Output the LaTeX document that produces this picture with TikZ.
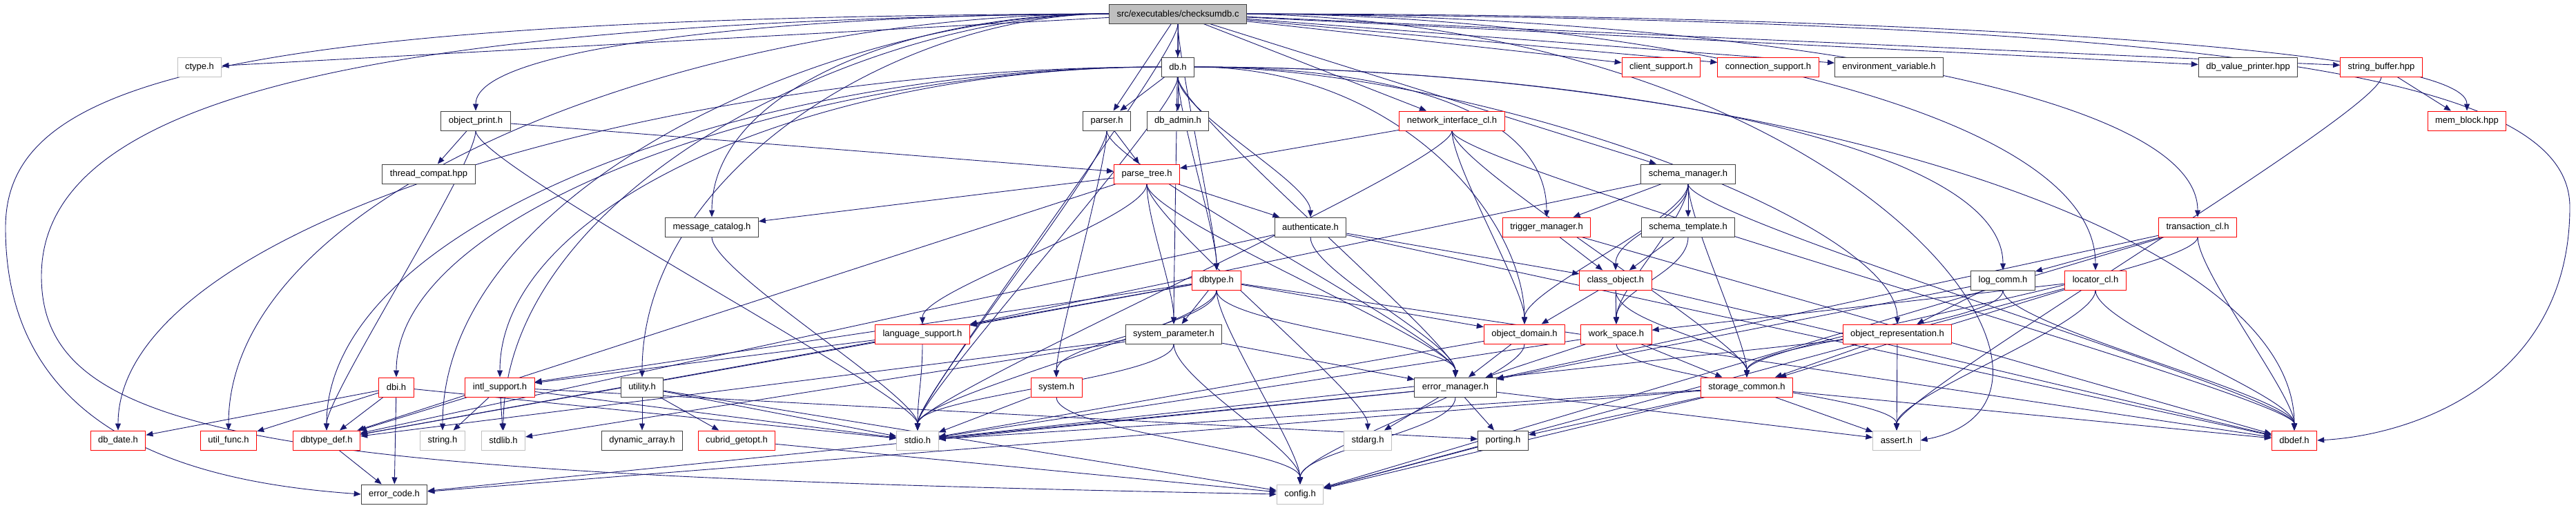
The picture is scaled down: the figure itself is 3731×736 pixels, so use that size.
\documentclass[tikz,border=0pt]{standalone}
\usepackage{fontspec}
\setmainfont{Liberation Sans}
\usetikzlibrary{arrows.meta,backgrounds}
\definecolor{edgeblue}{HTML}{191970}
\definecolor{boxgray}{HTML}{BFBFBF}
\definecolor{boxdark}{HTML}{404040}
\tikzset{
  hdr/.style={draw=boxdark, line width=1pt, fill=white, inner xsep=11pt, inner ysep=0pt,
    minimum height=28pt, font=\fontsize{13}{15}\selectfont},
  hdrred/.style={hdr, draw=red},
  hdrsys/.style={hdr, draw=boxgray},
  hdrmain/.style={hdr, fill=boxgray},
  incl/.style={draw=edgeblue, line width=0.9pt, -{Triangle[length=10pt,width=8pt]}},
}
\begin{document}
\begin{tikzpicture}[x=1pt,y=-1pt]
\useasboundingbox (0,0) rectangle (3731,736);
% rank 0 and 1
\node[hdrmain] (main) at (1706,20) {src/executables/checksumdb.c};
\node[hdrsys] (ctype) at (289,97) {ctype.h};
\node[hdr] (dbh) at (1706,97) {db.h};
\node[hdrred] (clientsup) at (2406,97) {client\_support.h};
\node[hdrred] (connsup) at (2561,97) {connection\_support.h};
\node[hdr] (envvar) at (2736,97) {environment\_variable.h};
\node[hdr] (dbvalprint) at (3256,97) {db\_value\_printer.hpp};
\node[hdrred] (strbuf) at (3449,97) {string\_buffer.hpp};
% rank 2 and 3
\node[hdr] (objprint) at (689,175) {object\_print.h};
\node[hdr] (parser) at (1603,175) {parser.h};
\node[hdr] (dbadmin) at (1706,175) {db\_admin.h};
\node[hdrred] (netif) at (2103,175) {network\_interface\_cl.h};
\node[hdrred] (memblock) at (3573,175) {mem\_block.hpp};
\node[hdr] (threadcompat) at (621,252) {thread\_compat.hpp};
\node[hdrred] (parsetree) at (1661,252) {parse\_tree.h};
\node[hdr] (schemamgr) at (2445,252) {schema\_manager.h};
% rank 4 and 5
\node[hdr] (msgcat) at (1031,329) {message\_catalog.h};
\node[hdr] (auth) at (1898,329) {authenticate.h};
\node[hdrred] (trigmgr) at (2240,329) {trigger\_manager.h};
\node[hdr] (schematpl) at (2445,329) {schema\_template.h};
\node[hdrred] (trancl) at (3183,329) {transaction\_cl.h};
\node[hdrred] (dbtype) at (1762,406) {dbtype.h};
\node[hdrred] (classobj) at (2340,406) {class\_object.h};
\node[hdr] (logcomm) at (2901,406) {log\_comm.h};
\node[hdrred] (locator) at (3035,406) {locator\_cl.h};
% rank 6 and 7
\node[hdrred] (langsup) at (1336,484) {language\_support.h};
\node[hdr] (sysparam) at (1700,484) {system\_parameter.h};
\node[hdrred] (objdomain) at (2208,484) {object\_domain.h};
\node[hdrred] (workspace) at (2341,484) {work\_space.h};
\node[hdrred] (objrepr) at (2748,484) {object\_representation.h};
\node[hdrred] (dbi) at (574,561) {dbi.h};
\node[hdrred] (intlsup) at (724,561) {intl\_support.h};
\node[hdr] (utility) at (930,561) {utility.h};
\node[hdrred] (systemh) at (1530,561) {system.h};
\node[hdr] (errmgr) at (2108,561) {error\_manager.h};
\node[hdrred] (storage) at (2530,561) {storage\_common.h};
% rank 8 and 9
\node[hdrred] (dbdate) at (171,638) {db\_date.h};
\node[hdrred] (utilfunc) at (331,638) {util\_func.h};
\node[hdrred] (dbtypedef) at (473,638) {dbtype\_def.h};
\node[hdrsys] (stringh) at (641,638) {string.h};
\node[hdrsys] (stdlibh) at (729,638) {stdlib.h};
\node[hdr] (dynarr) at (930,638) {dynamic\_array.h};
\node[hdrred] (getopt) at (1067,638) {cubrid\_getopt.h};
\node[hdrsys] (stdioh) at (1329,638) {stdio.h};
\node[hdrsys] (stdargh) at (1981,638) {stdarg.h};
\node[hdr] (porting) at (2177,638) {porting.h};
\node[hdrsys] (asserth) at (2747,638) {assert.h};
\node[hdrred] (dbdef) at (3323,638) {dbdef.h};
\node[hdr] (errcode) at (571,716) {error\_code.h};
\node[hdrsys] (config) at (1883,716) {config.h};

\begin{scope}[on background layer]
% straight includes
\foreach \src/\dst in {main/ctype, main/dbh, main/parser, main/clientsup, main/connsup,
  main/envvar, main/dbvalprint, main/strbuf, main/schemamgr, main/netif,
  dbh/parser, dbh/dbadmin, objprint/threadcompat, objprint/parsetree, strbuf/memblock,
  parser/parsetree, netif/parsetree, parsetree/msgcat, parsetree/auth, parsetree/dbtypedef,
  schemamgr/trigmgr, schemamgr/schematpl, schemamgr/langsup,
  auth/classobj, auth/dbtypedef, auth/dbdef, trigmgr/classobj, trigmgr/dbdef, schematpl/classobj,
  trancl/logcomm, trancl/errmgr, trancl/config,
  dbtype/langsup, dbtype/sysparam, dbtype/objdomain, dbtype/dbtypedef, dbtype/dbdef, dbtype/intlsup,
  classobj/objdomain, classobj/workspace, classobj/dbdef,
  logcomm/objrepr, logcomm/errmgr, locator/workspace, locator/storage, locator/config,
  langsup/intlsup, langsup/dbtypedef, sysparam/errmgr, sysparam/dbtypedef, sysparam/stdlibh,
  objdomain/errmgr, objdomain/stdioh, workspace/storage, workspace/errmgr, workspace/stdioh,
  objrepr/asserth, objrepr/storage, objrepr/stdioh,
  dbi/dbdate, dbi/utilfunc, dbi/dbtypedef, dbi/errcode, dbi/stdioh,
  intlsup/stringh, intlsup/stdlibh, intlsup/dbtypedef, intlsup/porting, intlsup/stdioh,
  utility/dynarr, utility/getopt, utility/stdioh, utility/config, systemh/stdioh,
  errmgr/stdargh, errmgr/porting, errmgr/errcode, errmgr/stdioh, errmgr/asserth,
  storage/porting, storage/asserth, storage/stdioh, storage/dbdef, storage/config, storage/errcode,
  dbtypedef/errcode, porting/config, getopt/config}
  \draw[incl] (\src) -- (\dst);
% curved includes
\foreach \src/\dst in {main/dbtype, main/sysparam, main/stdioh,
  dbh/dbtype, dbh/auth, dbh/errmgr, dbh/stdioh,
  objprint/stdioh, objprint/dbtypedef, parser/stdioh, parser/errmgr, parser/systemh,
  netif/objdomain, netif/storage, netif/stdioh, netif/dbdef, strbuf/asserth,
  parsetree/sysparam, parsetree/langsup, parsetree/errmgr, parsetree/stdargh,
  schemamgr/classobj, schemamgr/objdomain, schemamgr/workspace, schemamgr/storage, schemamgr/dbdef,
  msgcat/stdioh, auth/errmgr, schematpl/workspace, trancl/storage, trancl/dbdef,
  dbtype/systemh, dbtype/stdioh, dbtype/errmgr, dbtype/config,
  classobj/storage, logcomm/storage, logcomm/dbdef,
  locator/dbdef, locator/asserth, langsup/stdioh, sysparam/stdioh, sysparam/config,
  objdomain/config, workspace/asserth, systemh/config, errmgr/config}
  \draw[incl] (\src.south) .. controls +(0,50) and +(0,-50) .. (\dst.north);
% long sweeps to the left
\foreach \dst/\od/\id in {objprint/400/100, msgcat/300/180, utility/300/300,
  utilfunc/600/350, stringh/400/350, stdlibh/350/350}
  \draw[incl] (main.west) .. controls +(-\od,0) and +(0,-\id) .. (\dst.north);
\foreach \dst/\od/\id in {dbdate/700/300, dbi/500/250, dbtypedef/600/300, intlsup/500/250}
  \draw[incl] (dbh.west) .. controls +(-\od,0) and +(0,-\id) .. (\dst.north);
% long sweeps to the right
\foreach \dst/\od/\id in {memblock/800/100, trancl/600/200, locator/500/250}
  \draw[incl] (main.east) .. controls +(\od,0) and +(0,-\id) .. (\dst.north);
\foreach \dst/\od/\id in {logcomm/500/200, dbdef/800/300, objrepr/400/150,
  objdomain/300/150, trigmgr/300/150}
  \draw[incl] (dbh.east) .. controls +(\od,0) and +(0,-\id) .. (\dst.north);
% round the outside
\draw[incl] (main.west) .. controls (300,25) and (8,120) .. (8,330)
  .. controls (8,640) and (300,700) .. (errcode.west);
\draw[incl] (main.west) .. controls (500,30) and (60,150) .. (60,400)
  .. controls (60,640) and (400,688) .. (config.west);
\draw[incl] (main.east) .. controls (3300,30) and (3722,120) .. (3722,300)
  .. controls (3722,550) and (3500,630) .. (dbdef.east);
\draw[incl] (main.east) .. controls (2700,40) and (3080,580) .. (asserth.east);
\end{scope}
\end{tikzpicture}
\end{document}
